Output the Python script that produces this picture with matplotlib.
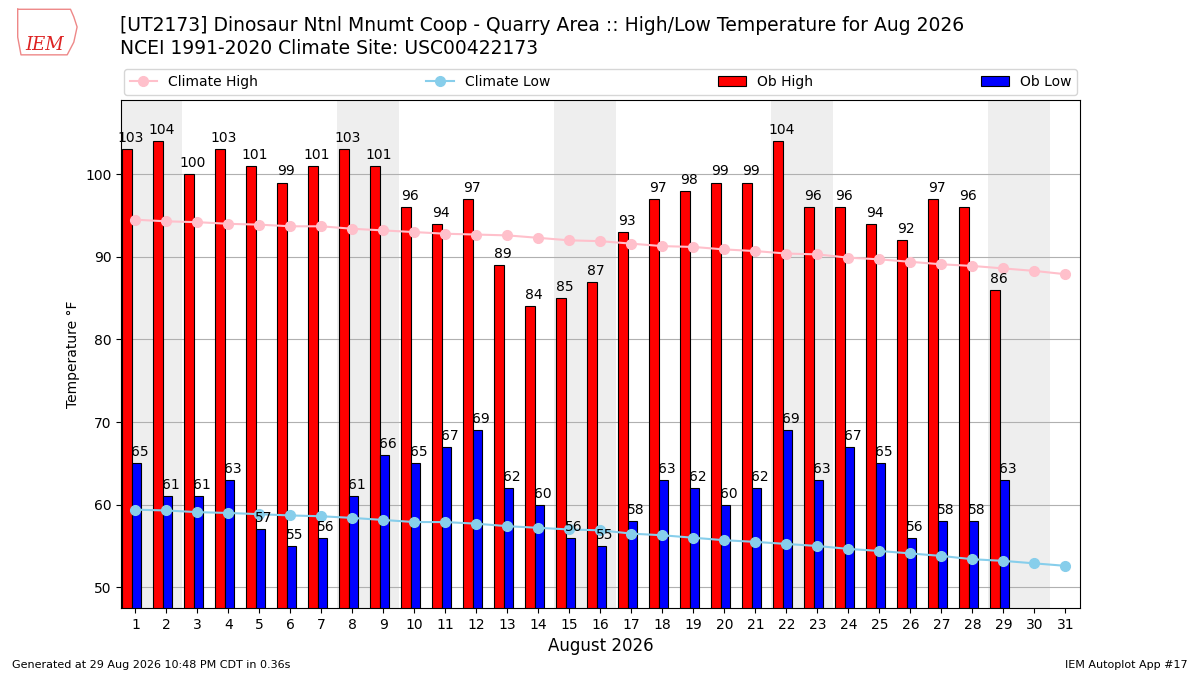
#high/low temperature bars for the month against the climate normals
import matplotlib
matplotlib.use('Agg')
import matplotlib.pyplot as plt
from matplotlib.patches import Rectangle
from matplotlib.lines import Line2D
import numpy as np

days = list(range(1, 32))
ob_days = list(range(1, 30))
ob_highs = [103, 104, 100, 103, 101, 99, 101, 103, 101, 96, 94, 97, 89, 84, 85,
            87, 93, 97, 98, 99, 99, 104, 96, 96, 94, 92, 97, 96, 86]
ob_lows = [65, 61, 61, 63, 57, 55, 56, 61, 66, 65, 67, 69, 62, 60, 56,
           55, 58, 63, 62, 60, 62, 69, 63, 67, 65, 56, 58, 58, 63]
climate_high = [94.5, 94.3, 94.2, 94.0, 93.9, 93.7, 93.7, 93.4, 93.2, 93.0,
                92.8, 92.7, 92.6, 92.3, 92.0, 91.9, 91.6, 91.3, 91.2, 90.9,
                90.7, 90.4, 90.3, 89.9, 89.7, 89.4, 89.1, 88.9, 88.6, 88.3, 87.9]
climate_low = [59.4, 59.3, 59.1, 59.0, 58.85, 58.7, 58.6, 58.4, 58.15, 57.9,
               57.9, 57.7, 57.4, 57.2, 57.0, 56.9, 56.5, 56.3, 56.0, 55.7,
               55.5, 55.25, 55.0, 54.65, 54.4, 54.1, 53.8, 53.4, 53.2, 52.9, 52.6]
weekend_starts = [1, 8, 15, 22, 29]  # saturdays

fig = plt.figure(figsize=(12, 6.75), dpi=100)
ax = fig.add_axes([0.101, 0.0993, 0.799, 0.7527])

for sat in weekend_starts:
    ax.axvspan(sat - 0.5, sat + 1.5, color='#eeeeee', zorder=0, lw=0)

ax.grid(axis='y', color='#b0b0b0', lw=0.8, zorder=1)

x = np.array(ob_days)
ax.bar(x - 0.42, ob_highs, width=0.3, align='edge', color='r',
       edgecolor='k', lw=0.8, zorder=2)
ax.bar(x - 0.12, ob_lows, width=0.3, align='edge', color='b',
       edgecolor='k', lw=0.8, zorder=2)

ax.plot(days, climate_high, color='pink', marker='o', ms=7, lw=1.5, zorder=3)
ax.plot(days, climate_low, color='skyblue', marker='o', ms=7, lw=1.5, zorder=3)

for d, h, l in zip(ob_days, ob_highs, ob_lows):
    ax.text(d - 0.15, h + 0.5, str(h), ha='center', va='bottom',
            fontsize=10, zorder=4)
    ax.text(d + 0.15, l + 0.5, str(l), ha='center', va='bottom',
            fontsize=10, zorder=4)

ax.set_xlim(0.54, 31.47)
ax.set_ylim(47.5, 109)
ax.set_xticks(days)
ax.set_yticks([50, 60, 70, 80, 90, 100])
ax.tick_params(labelsize=10)
ax.set_xlabel('August 2026', fontsize=12)
ax.set_ylabel('Temperature \u00b0F', fontsize=10)

handles = [
    Line2D([], [], color='pink', marker='o', ms=7, lw=1.5),
    Line2D([], [], color='skyblue', marker='o', ms=7, lw=1.5),
    Rectangle((0, 0), 1, 1, facecolor='r', edgecolor='k', lw=0.8),
    Rectangle((0, 0), 1, 1, facecolor='b', edgecolor='k', lw=0.8),
]
labels = ['Climate High', 'Climate Low', 'Ob High', 'Ob Low']
ax.legend(handles, labels, loc='lower left', bbox_to_anchor=(0, 1.005, 1, 0.05),
          mode='expand', ncol=4, fontsize=10, borderaxespad=0.2)

fig.text(0.1, 0.962, '[UT2173] Dinosaur Ntnl Mnumt Coop - Quarry Area :: '
         'High/Low Temperature for Aug 2026', fontsize=13.5, va='center')
fig.text(0.1, 0.928, 'NCEI 1991-2020 Climate Site: USC00422173',
         fontsize=13.5, va='center')

# rough stand-in for the IEM logo
logo = fig.add_axes([0.012, 0.915, 0.055, 0.075])
logo.plot([0.05, 0.85, 0.9, 0.95, 0.9, 0.8, 0.1, 0.05, 0.05],
          [0.95, 0.95, 0.8, 0.6, 0.3, 0.05, 0.05, 0.4, 0.95],
          color='#e88', lw=1)
logo.text(0.45, 0.25, 'IEM', color='#d22', fontsize=13, family='serif',
          style='italic', ha='center', va='center')
logo.set_xlim(0, 1)
logo.set_ylim(0, 1)
logo.axis('off')

fig.text(0.01, 0.011, 'Generated at 29 Aug 2026 10:48 PM CDT in 0.36s', fontsize=8)
fig.text(0.99, 0.011, 'IEM Autoplot App #17', fontsize=8, ha='right')

fig.savefig('out.png')
